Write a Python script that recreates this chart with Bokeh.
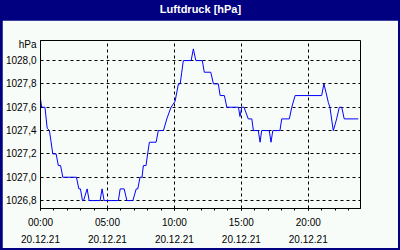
from bokeh.plotting import figure
from bokeh.layouts import column
from bokeh.models import Range1d, FixedTicker
from bokeh.core.properties import value
from bokeh.embed import file_html
from bokeh.resources import INLINE

# time in minutes after 00:00 on 20.12.21, pressure in hPa
minutes = [0, 5, 20, 30, 40, 55, 70, 80, 90, 100, 161, 172, 179, 188, 193, 209, 218,
           267, 276, 285, 349, 357, 375, 387, 414, 429, 436, 446, 455, 461, 473, 480,
           488, 518, 528, 551, 566, 585, 603, 611, 618, 626, 633, 640, 675, 685, 696,
           725, 734, 763, 775, 797, 805, 824, 835, 887, 894, 902, 912, 931, 947, 954,
           976, 984, 991, 1025, 1033, 1041, 1073, 1081, 1115, 1126, 1141, 1260, 1270,
           1279, 1290, 1297, 1312, 1320, 1327, 1339, 1350, 1361, 1424]
pressure = [1027.67, 1027.6, 1027.6, 1027.42, 1027.4, 1027.2, 1027.2, 1027.1, 1027.1,
            1027.0, 1027.0, 1026.9, 1026.9, 1026.8, 1026.8, 1026.9, 1026.8,
            1026.8, 1026.9, 1026.8, 1026.8, 1026.9, 1026.9, 1026.8, 1026.8, 1026.9,
            1026.9, 1027.0, 1027.0, 1027.1, 1027.1, 1027.2, 1027.3, 1027.3, 1027.4,
            1027.4, 1027.5, 1027.6, 1027.65, 1027.73, 1027.8, 1027.8, 1027.9, 1028.0,
            1028.0, 1028.1, 1028.0, 1028.0, 1027.9, 1027.9, 1027.8, 1027.8, 1027.7,
            1027.7, 1027.6, 1027.6, 1027.52, 1027.6, 1027.6, 1027.5, 1027.5, 1027.4,
            1027.4, 1027.3, 1027.4, 1027.4, 1027.3, 1027.4, 1027.4, 1027.5, 1027.5,
            1027.6, 1027.7, 1027.7, 1027.8, 1027.73, 1027.64, 1027.6, 1027.4, 1027.45,
            1027.5, 1027.6, 1027.6, 1027.5, 1027.5]

x_ticks = [0, 5, 10, 15, 20]
x_tick_times = ["00:00", "05:00", "10:00", "15:00", "20:00"]
x_tick_dates = ["20.12.21", "20.12.21", "20.12.21", "20.12.21", "20.12.21"]
y_ticks = [1026.8, 1027.0, 1027.2, 1027.4, 1027.6, 1027.8, 1028.0]
y_tick_labels = ["1026,8", "1027,0", "1027,2", "1027,4", "1027,6", "1027,8", "1028,0"]
title_text = "Luftdruck [hPa]"
unit_text = "hPa"

hours = [m / 60 for m in minutes]
BG = "#f8fcf8"
NAVY = "#000080"
FONT = "Liberation Sans"
Y0, Y1 = 1026.732, 1028.172

# ---- title bar ----
t = figure(width=396, height=20, output_backend="svg", toolbar_location=None,
           x_range=Range1d(0, 1), y_range=Range1d(0, 1),
           min_border=0, x_axis_type=None, y_axis_type=None)
t.background_fill_color = NAVY
t.border_fill_color = NAVY
t.outline_line_color = None
t.xgrid.visible = False
t.ygrid.visible = False
t.text(x=[0.5], y=[0.58], text=[title_text], text_align="center",
       text_baseline="middle", text_color="white", text_font=value(FONT),
       text_font_style="bold", text_font_size="11px")

# ---- chart ----
p = figure(width=396, height=228, output_backend="svg", toolbar_location=None,
           x_range=Range1d(0, 23.9), y_range=Range1d(Y0, Y1),
           min_border_left=38, min_border_right=38, min_border_top=20,
           min_border_bottom=38)
p.background_fill_color = BG
p.border_fill_color = BG
p.outline_line_color = "black"
p.outline_line_alpha = 1
p.outline_line_width = 1

p.line(hours, pressure, line_color="#0000ff", line_width=1)

p.xaxis.ticker = FixedTicker(ticks=x_ticks, minor_ticks=list(range(0, 25)))
p.xaxis.major_label_overrides = {tk: f"{a}\n{b}" for tk, a, b in zip(x_ticks, x_tick_times, x_tick_dates)}
p.xaxis.major_tick_out = 2
p.xaxis.major_tick_in = 0
p.xaxis.minor_tick_out = 2
p.xaxis.minor_tick_in = 0
p.xaxis.major_label_standoff = 6
p.xaxis.major_label_text_line_height = 1.6

# unit label sits just above the top tick, at the top of the value axis
unit_pos = Y1 - (Y1 - Y0) * 0.025
p.yaxis.ticker = FixedTicker(ticks=y_ticks + [unit_pos])
overrides = {tk: l for tk, l in zip(y_ticks, y_tick_labels)}
overrides[unit_pos] = unit_text
p.yaxis.major_label_overrides = overrides
p.yaxis.major_tick_out = 0
p.yaxis.major_tick_in = 0
p.yaxis.minor_tick_out = 0
p.yaxis.minor_tick_in = 0
p.yaxis.major_label_standoff = 4

for ax in (p.xaxis, p.yaxis):
    ax.axis_line_color = "black"
    ax.major_tick_line_color = "black"
    ax.minor_tick_line_color = "black"
    ax.major_label_text_font = FONT
    ax.major_label_text_font_size = "10px"
    ax.major_label_text_color = "black"

p.xgrid.ticker = FixedTicker(ticks=x_ticks)
p.ygrid.ticker = FixedTicker(ticks=y_ticks)
for g in (p.xgrid, p.ygrid):
    g.grid_line_color = "black"
    g.grid_line_dash = "3 3"
    g.grid_line_width = 1

layout = column(t, p, spacing=0,
                styles={"background-color": NAVY, "padding": "0px 2px 2px 2px"})

open("out.html", "w").write(file_html(layout, INLINE))
